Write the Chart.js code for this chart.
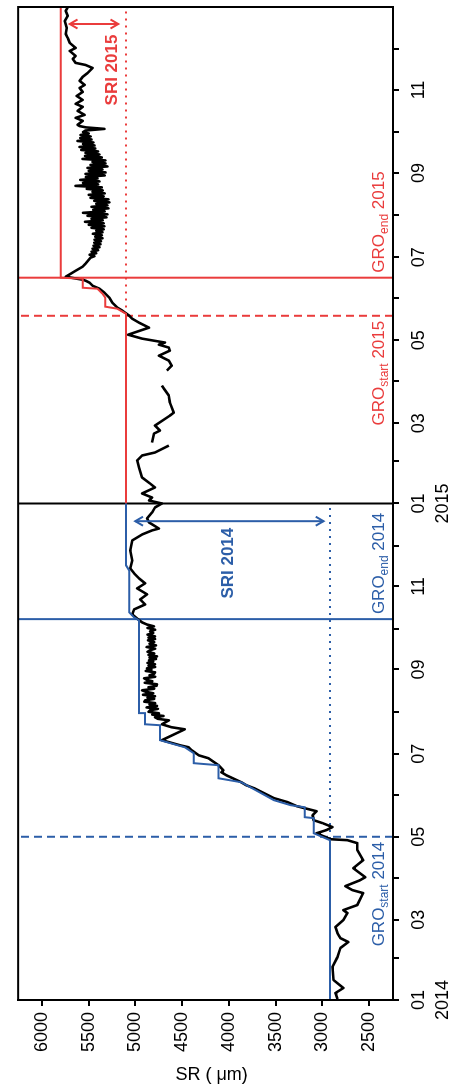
<!DOCTYPE html>
<html>
<head>
<meta charset="utf-8">
<script src="https://cdn.jsdelivr.net/npm/chart.js@4"></script>
<style>
  html, body { margin: 0; padding: 0; background: #fff; overflow: hidden; }
  /* The chart is laid out landscape and turned a quarter turn so time runs upwards */
  #wrap {
    position: absolute; left: 0; top: 0;
    width: 1086px; height: 455px;
    transform-origin: 0 0;
    transform: translate(0, 1086px) rotate(-90deg);
  }
</style>
</head>
<body>
<div id="wrap"><canvas id="c" width="1086" height="455"></canvas></div>
<script>
// ---- Time axis: days counted from 1 Jan 2014 ----
const monthStartDays = [0,31,59,90,120,151,181,212,243,273,304,334,365,396,424,455,485,516,546,577,608,638,669,699];
const monthTickLabels = [['01','2014'],'','03','','05','','07','','09','','11','',
                         ['01','2015'],'','03','','05','','07','','09','','11',''];
const srTicks = [2500,3000,3500,4000,4500,5000,5500,6000];

// ---- Stem radius record: [day, SR in µm]; null marks missing data ----
const srRecord = [
  [0.7,2839],[5.1,2861],[8.8,2776],[14.7,2882],[24.2,2893],[31.6,2839],[38.2,2808],[42.6,2723],[45.5,2808],[49.2,2839],
  [53.6,2861],[58.8,2776],[63.9,2733],[66.1,2776],[69.8,2627],[78.6,2564],[80.8,2680],[83.7,2755],[88.1,2596],[90.3,2542],
  [96.9,2670],[102.8,2564],[110.2,2627],[115.3,2627],[117.5,2733],[118.2,2914],[122.6,3063],[124.9,2957],[127.1,2893],[130.0,2998],
  [132.2,3094],[135.9,3105],[138.8,3063],[141.0,3190],[142.5,3274],[145.4,3370],[148.4,3518],[152.0,3624],[155.7,3731],[157.9,3815],
  [160.1,3868],[165.2,4027],[167.4,4080],[168.9,4059],[172.6,4112],[177.7,4218],[179.9,4324],[183.6,4399],[185.8,4431],[187.3,4526],
  [191.0,4717],[199.0,4473],[200.5,4612],[202.7,4717],[205.6,4643],
  [206.7,4760],[207.8,4791],[208.8,4700],[209.8,4820],[210.8,4749],[211.9,4860],[213.0,4844],[214.0,4760],[215.1,4880],[216.2,4770],
  [217.3,4850],[218.3,4790],[219.3,4905],[220.3,4897],[221.3,4800],[222.3,4870],[223.3,4791],[224.4,4920],[225.5,4810],[226.6,4890],
  [227.7,4929],[228.8,4800],[229.9,4860],[231.0,4775],[232.1,4770],[233.2,4900],[234.3,4820],[235.4,4880],[236.5,4908],[237.6,4790],
  [238.7,4850],[239.8,4800],[240.9,4791],[241.9,4890],[242.9,4830],[243.8,4876],[244.8,4790],[245.8,4860],[246.8,4791],[247.8,4870],
  [248.8,4810],[249.7,4855],[250.7,4780],[251.7,4850],[252.6,4770],[253.7,4860],[254.8,4800],[256.0,4870],[257.1,4844],[258.3,4790],
  [259.5,4880],[260.7,4781],[261.9,4850],[263.1,4800],[264.4,4866],[265.4,4790],[266.4,4860],[267.3,4791],[268.6,4870],[269.8,4810],
  [271.0,4844],[272.2,4790],[273.5,4870],[274.7,4802],[276.1,4880],[277.6,4929],[279.8,4971],[283.5,5035],[287.2,5014],[290.8,4897],
  [294.5,4950],[298.2,4876],[302.6,4982],[306.3,4897],[309.9,4961],[313.6,5014],[317.3,5056],[323.1,5035],[330.5,5056],[337.8,5035],
  [342.2,4929],[345.2,4823],[346.6,4749],[351.1,4855],[354.0,4876],[358.4,4823],[362.1,4791],[365.0,4717],[367.2,4855],[369.4,4823],
  [372.4,4929],[376.8,4791],[379.7,4844],[384.1,4929],[391.5,4961],[396.6,4982],[400.3,4929],[402.5,4791],[407.6,4643],[409.0,null],
  [409.8,4823],[416.4,4802],[418.6,4738],[422.3,4791],[429.6,4632],[431.8,4590],[439.2,4632],[444.3,4643],[449.5,4696],[451.7,4717],
  [456.0,null],[462.7,4664],[466.4,4612],[470.0,4643],[473.7,4749],[477.4,4632],[479.6,4643],[481.8,4749],[483.3,4685],[486.2,4929],
  [489.1,5078],[494.3,4855],[497.9,4961],[500.9,5035],[503.1,5067],[506.8,5141],[509.0,5194],[512.6,5247],[516.3,5279],[520.0,5332],
  [522.9,5385],[525.1,5459],[527.3,5491],[528.8,5534],[529.5,5565],[531.7,5746],[536.1,5640],[539.1,5565],[541.3,5534],[545.7,5481],
  [546.8,5440],[547.9,5490],[549.0,5420],[550.1,5470],[551.2,5400],[552.3,5460],[553.4,5385],[554.5,5449],[555.6,5375],[556.7,5440],
  [557.8,5370],[558.9,5438],[560.0,5353],[561.1,5430],[562.2,5360],[563.3,5455],[564.4,5353],[565.5,5420],[566.6,5340],[567.7,5470],
  [568.8,5332],[569.9,5500],[571.0,5340],[572.1,5540],[573.2,5350],[574.3,5470],[575.4,5310],[576.5,5512],[577.6,5300],[578.7,5560],
  [579.8,5330],[580.9,5450],[582.0,5290],[583.1,5470],[584.2,5300],[585.3,5420],[586.4,5279],[587.5,5440],[588.6,5290],[589.7,5480],
  [590.8,5340],[591.9,5500],[593.0,5330],[594.1,5460],[595.2,5350],[596.3,5520],[597.4,5360],[598.5,5640],[599.6,5400],[600.7,5560],
  [601.8,5385],[602.9,5590],[604.0,5406],[605.1,5530],[606.2,5330],[607.3,5534],[608.4,5320],[609.5,5500],[610.6,5353],[611.7,5512],
  [612.8,5300],[613.9,5480],[615.0,5320],[616.1,5459],[617.2,5322],[618.3,5565],[619.4,5360],[620.5,5540],[621.6,5385],[622.7,5534],
  [623.8,5400],[624.9,5580],[626.0,5430],[627.1,5597],[628.2,5438],[629.3,5560],[630.4,5450],[631.5,5620],[632.6,5470],[633.7,5590],
  [634.8,5480],[635.9,5587],[637.0,5500],[638.1,5560],[639.2,5534],[640.4,5332],[641.5,5530],[642.5,5600],[643.4,5619],[646.3,5565],
  [648.5,5640],[650.7,5544],[653.6,5619],[656.6,5565],[658.8,5640],[661.7,5565],[664.6,5629],[667.6,5565],[670.5,5597],[672.7,5544],
  [675.7,5597],[678.6,5565],[681.5,5512],[685.2,5459],[687.4,5534],[688.9,5640],[691.8,5671],[694.0,5640],[697.7,5703],[699.9,5640],
  [703.6,5703],[707.3,5725],[710.2,5746],[714.6,5735],[719.8,5756],[723.4,5725],[727.1,5746],[729.5,5725]
];

// ---- Growth envelopes (running maximum within each season) ----
const env2014Days   = [0,117.5,122.6,133.7,134.4,141.7,143.2,146.9,160.1,163.0,172.6,174.1,181.4,185.8,191.0,202.0,202.7,210.8,210.9,279.1,281.3,285.0,315.8,319.5,365];
const env2014Values = [2920,2920,3094,3094,3190,3190,3338,3518,3868,4112,4112,4377,4377,4473,4738,4738,4897,4897,4961,4961,5014,5067,5067,5100,5100];
const env2015Days   = [365,504.5,508.2,509.7,516.3,519.2,522.9,523.6,530.3,531.0,730];
const env2015Values = [5100,5100,5194,5322,5322,5353,5406,5565,5565,5799,5799];

// ---- Season markers ----
const seasonYears = ['2014','2015'];
const seasonBounds = [0, 365, 730];
const groStartDays = [120, 503];
const groEndDays = [280, 531];
const yearBreakDay = 365;
const seasonStartLevels = [2920, 5100];
const sriArrowDays = [352, 717.5];
const sriArrowFrom = [5003, 5703];
const sriArrowTo = [2988, 5184];

// ---- Axis limits ----
const DAY_MIN = 0, DAY_MAX = 730;
const SR_MIN = 2245, SR_MAX = 6255;

const BLUE = '#2c5ea8', RED = '#ea3c3c';
const seasonColors = [BLUE, RED];
const FONT = '"Liberation Sans", Arial, Helvetica, sans-serif';

const pts = (xs, ys) => xs.map((d, i) => ({ x: d, y: ys[i] }));
const vline = d => [{ x: d, y: SR_MIN }, { x: d, y: SR_MAX }];
const base = { pointRadius: 0, fill: false, tension: 0, borderCapStyle: 'butt' };

const datasets = [
  { ...base, data: pts(env2014Days, env2014Values), borderColor: BLUE, borderWidth: 2, order: 1 },
  { ...base, data: pts(env2015Days, env2015Values), borderColor: RED, borderWidth: 2, order: 1 },
  { ...base, data: srRecord.map(([d, v]) => ({ x: d, y: v })), borderColor: '#000', borderWidth: 2.6,
    borderJoinStyle: 'round', spanGaps: false, order: 2 },
];
groStartDays.forEach((d, i) => datasets.push({ ...base, data: vline(d), borderColor: seasonColors[i],
  borderWidth: 2, borderDash: [8, 5], order: 3 }));
groEndDays.forEach((d, i) => datasets.push({ ...base, data: vline(d), borderColor: seasonColors[i],
  borderWidth: 2, order: 3 }));
datasets.push({ ...base, data: vline(yearBreakDay), borderColor: '#000', borderWidth: 2, order: 3 });
seasonStartLevels.forEach((lv, i) => datasets.push({ ...base,
  data: [{ x: seasonBounds[i], y: lv }, { x: seasonBounds[i + 1], y: lv }],
  borderColor: seasonColors[i], borderWidth: 2, borderDash: [2, 5], order: 4 }));

function doubleArrow(ctx, px, p0, p1, color) {
  const len = 9, ang = Math.PI / 6;
  ctx.strokeStyle = color; ctx.lineWidth = 2; ctx.lineCap = 'butt';
  ctx.beginPath(); ctx.moveTo(px, p0); ctx.lineTo(px, p1); ctx.stroke();
  [[p0, Math.sign(p1 - p0)], [p1, Math.sign(p0 - p1)]].forEach(([tip, dir]) => {
    ctx.beginPath();
    ctx.moveTo(px - len * Math.sin(ang), tip + dir * len * Math.cos(ang));
    ctx.lineTo(px, tip);
    ctx.lineTo(px + len * Math.sin(ang), tip + dir * len * Math.cos(ang));
    ctx.stroke();
  });
}

function groLabel(ctx, px, align, sub, year, color, baseY) {
  const big = `17px ${FONT}`, small = `12px ${FONT}`;
  ctx.font = big;
  const w1 = ctx.measureText('GRO').width, w3 = ctx.measureText(' ' + year).width;
  ctx.font = small;
  const w2 = ctx.measureText(sub).width;
  const x0 = align === 'right' ? px - (w1 + w2 + w3) : px;
  ctx.fillStyle = color; ctx.textAlign = 'left'; ctx.textBaseline = 'alphabetic';
  ctx.font = big; ctx.fillText('GRO', x0, baseY);
  ctx.font = small; ctx.fillText(sub, x0 + w1, baseY + 4);
  ctx.font = big; ctx.fillText(' ' + year, x0 + w1 + w2, baseY);
}

const decorations = {
  id: 'decorations',
  afterDatasetsDraw(chart, args, opts) {
    const { ctx, chartArea: a, scales: { x, y } } = chart;
    ctx.save();
    // SRI arrows and their labels
    seasonYears.forEach((yr, i) => {
      const px = x.getPixelForValue(sriArrowDays[i]);
      doubleArrow(ctx, px, y.getPixelForValue(sriArrowFrom[i]), y.getPixelForValue(sriArrowTo[i]), seasonColors[i]);
      ctx.fillStyle = seasonColors[i];
      ctx.font = `bold 17px ${FONT}`;
      ctx.textAlign = 'center'; ctx.textBaseline = 'middle';
      ctx.fillText('SRI ' + yr, px - opts.sriLabelShift[i], y.getPixelForValue(opts.sriLabelLevel[i]));
    });
    // growth onset / cessation labels
    const baseY = a.bottom - 9;
    seasonYears.forEach((yr, i) => {
      groLabel(ctx, x.getPixelForValue(groStartDays[i]) - 5, 'right', 'start', yr, seasonColors[i], baseY);
      groLabel(ctx, x.getPixelForValue(groEndDays[i]) + 5, 'left', 'end', yr, seasonColors[i], baseY);
    });
    // box around the plot
    ctx.strokeStyle = '#000'; ctx.lineWidth = 2;
    ctx.strokeRect(a.left, a.top, a.right - a.left, a.bottom - a.top);
    // y axis title, reading along the axis
    ctx.translate(11, (a.top + a.bottom) / 2 + 6);
    ctx.rotate(Math.PI / 2);
    ctx.fillStyle = '#000'; ctx.font = `18px ${FONT}`;
    ctx.textAlign = 'center'; ctx.textBaseline = 'middle';
    ctx.fillText('SR ( μm)', 0, 0);
    ctx.restore();
  }
};

const tickFont = { family: FONT, size: 18, lineHeight: 1.35 };

new Chart(document.getElementById('c'), {
  type: 'line',
  data: { datasets },
  plugins: [decorations],
  options: {
    responsive: false,
    animation: false,
    devicePixelRatio: 1,
    layout: { padding: { left: 0, right: 7, top: 15, bottom: 0 } },
    plugins: {
      legend: { display: false },
      tooltip: { enabled: false },
      decorations: { sriLabelShift: [42, 46], sriLabelLevel: [4006, 5247] }
    },
    scales: {
      x: {
        type: 'linear', position: 'bottom', min: DAY_MIN, max: DAY_MAX,
        afterBuildTicks: s => { s.ticks = monthStartDays.map(v => ({ value: v })); },
        afterFit: s => { s.height = 62; },
        ticks: {
          autoSkip: false, maxRotation: 0, minRotation: 0, padding: 8,
          color: '#000', font: tickFont,
          callback: v => monthTickLabels[monthStartDays.indexOf(v)]
        },
        grid: { drawOnChartArea: false, drawTicks: true, tickLength: 6, color: '#000', lineWidth: 2 },
        border: { display: true, color: '#000', width: 2 }
      },
      y: {
        type: 'linear', position: 'left', min: SR_MIN, max: SR_MAX,
        afterBuildTicks: s => { s.ticks = srTicks.map(v => ({ value: v })); },
        afterFit: s => { s.width = 86; },
        ticks: { padding: 6, color: '#000', font: tickFont, callback: v => String(v) },
        grid: { drawOnChartArea: false, drawTicks: true, tickLength: 6, color: '#000', lineWidth: 2 },
        border: { display: true, color: '#000', width: 2 }
      }
    }
  }
});
</script>
</body>
</html>
